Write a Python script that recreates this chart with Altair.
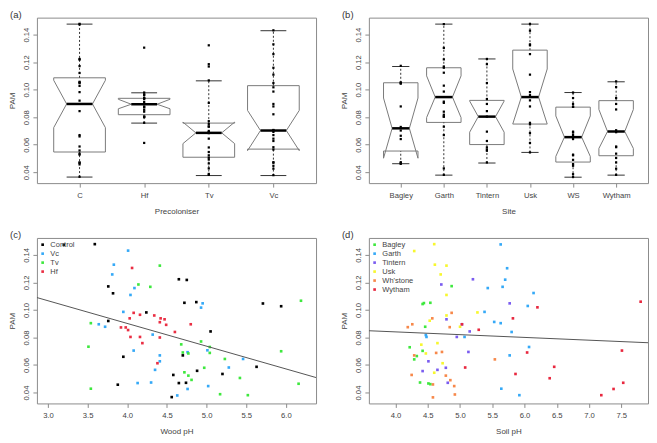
import altair as alt
import pandas as pd

FONT = "Liberation Sans"

# ---------------- data ----------------
# panel (c): wood pH vs PAM by precoloniser
ctrl_ph = [3.20, 3.59, 3.76, 3.82, 3.76, 3.95, 3.88, 4.24, 4.65, 4.75, 4.72, 4.87, 5.05, 4.70, 4.58,
           4.65, 4.74, 4.56, 4.88, 5.20, 5.63, 5.71, 5.94]
ctrl_pam = [0.1473, 0.1478, 0.1171, 0.1121, 0.0920, 0.0660, 0.0457, 0.0982, 0.1223, 0.1218, 0.1052,
            0.1057, 0.0844, 0.0670, 0.0528, 0.0469, 0.0471, 0.0367, 0.0558, 0.0535, 0.0587, 0.1047, 0.1027]
vc_ph = [4.01, 3.83, 3.81, 4.09, 4.04, 3.95, 3.64, 3.72, 4.08, 4.32, 4.41, 4.41, 4.35, 4.13, 4.30,
         4.63, 4.76, 4.76, 4.93, 4.95, 5.01, 5.02, 5.28, 5.46]
vc_pam = [0.1431, 0.1329, 0.1258, 0.1159, 0.1109, 0.0986, 0.0896, 0.0878, 0.0705, 0.0821, 0.0670,
          0.0627, 0.0565, 0.0469, 0.0473, 0.0379, 0.0426, 0.0693, 0.1017, 0.1048, 0.0707, 0.0447,
          0.0582, 0.0644]
tv_ph = [3.54, 3.51, 3.54, 4.14, 4.29, 4.41, 4.68, 4.70, 4.77, 4.93, 5.04, 5.04, 5.23, 4.97, 4.72,
         4.77, 4.81, 5.17, 5.42, 5.52, 5.94, 6.19, 6.16]
tv_pam = [0.0904, 0.0733, 0.0428, 0.1185, 0.1168, 0.1322, 0.0750, 0.0691, 0.0684, 0.0771, 0.0731,
          0.0688, 0.0644, 0.0580, 0.0547, 0.0523, 0.0492, 0.0388, 0.0506, 0.0381, 0.0700, 0.1067, 0.0464]
hf_ph = [4.06, 4.08, 4.03, 4.16, 4.34, 4.42, 4.47, 4.41, 4.49, 3.92, 3.98, 4.01, 4.04, 4.16, 4.19,
         4.41, 4.60, 4.80, 4.38]
hf_pam = [0.1305, 0.0979, 0.0939, 0.0965, 0.0960, 0.0939, 0.0932, 0.0911, 0.0892, 0.0873, 0.0873,
          0.0854, 0.0804, 0.0804, 0.0759, 0.0800, 0.0840, 0.0896, 0.0613]
wood_groups = ["Control", "Vc", "Tv", "Hf"]
wood_colors = ["#000000", "#35a9f7", "#3ee83e", "#ea2e43"]
wood_line_x = [2.86, 6.38]
wood_line_y = [0.1090, 0.0509]

# panel (d): soil pH vs PAM by site
bag_ph = [4.87, 4.44, 4.42, 4.54, 4.46, 4.22, 4.42, 4.33, 4.29, 4.38, 4.51, 4.54]
bag_pam = [0.1173, 0.1050, 0.1043, 0.1052, 0.0878, 0.0729, 0.0703, 0.0665, 0.0641, 0.0473, 0.0466, 0.0461]
gar_ph = [5.63, 5.73, 5.70, 6.14, 5.43, 5.66, 5.38, 6.05, 5.53, 5.63, 5.80, 5.07, 6.07, 5.77, 5.64,
          5.92, 4.47, 4.48]
gar_pam = [0.1476, 0.1303, 0.1220, 0.1123, 0.1159, 0.1168, 0.0986, 0.1029, 0.0913, 0.0904, 0.0840,
           0.0804, 0.0731, 0.0670, 0.0428, 0.0381, 0.0818, 0.0804]
tin_ph = [4.71, 5.20, 5.77, 4.79, 5.15, 4.95, 5.13, 4.51, 4.42, 4.65, 4.78, 4.81, 5.03]
tin_pam = [0.1185, 0.1223, 0.1048, 0.0932, 0.0844, 0.0804, 0.0695, 0.0627, 0.0556, 0.0565, 0.0580,
           0.0471, 0.0896]
usk_ph = [4.60, 4.29, 4.61, 4.79, 4.70, 4.79, 4.79, 4.53, 5.27, 5.00, 4.40, 4.65, 4.47, 4.73, 4.60]
usk_pam = [0.1478, 0.1428, 0.1329, 0.1322, 0.1258, 0.1109, 0.0960, 0.0922, 0.0982, 0.0878, 0.0748,
           0.0759, 0.0684, 0.0613, 0.0544]
whs_ph = [4.19, 4.26, 4.57, 4.87, 4.84, 4.29, 4.63, 4.72, 5.54, 4.25, 4.78, 4.85, 4.58, 4.91, 4.92, 4.58]
whs_pam = [0.0875, 0.0896, 0.0939, 0.0979, 0.0875, 0.0670, 0.0688, 0.0695, 0.0641, 0.0528, 0.0523,
           0.0490, 0.0459, 0.0447, 0.0386, 0.0365]
wyt_ph = [7.80, 6.20, 5.82, 5.29, 5.03, 6.04, 7.51, 5.08, 6.46, 5.86, 6.39, 7.53, 7.38, 7.19]
wyt_pam = [0.1060, 0.1019, 0.0939, 0.0856, 0.0896, 0.0691, 0.0705, 0.0582, 0.0587, 0.0535, 0.0504,
           0.0471, 0.0426, 0.0381]
soil_groups = ["Bagley", "Garth", "Tintern", "Usk", "Wh'stone", "Wytham"]
soil_colors = ["#3ee83e", "#35a9f7", "#7a5cf0", "#f7f72e", "#f7884a", "#e8283f"]
soil_line_x = [3.587, 7.914]
soil_line_y = [0.0849, 0.0762]

# panel (a) box statistics
preco_names = ["C", "Hf", "Tv", "Vc"]
preco_wlo = [0.0365, 0.0757, 0.0376, 0.0376]
preco_lh = [0.0547, 0.0818, 0.0509, 0.0568]
preco_nl = [0.0724, 0.0861, 0.0608, 0.0557]
preco_med = [0.0896, 0.0894, 0.0686, 0.0703]
preco_nu = [0.1068, 0.0930, 0.0764, 0.0849]
preco_uh = [0.1086, 0.0937, 0.0757, 0.1029]
preco_whi = [0.1476, 0.0977, 0.1064, 0.1428]

# panel (b) box statistics
site_names = ["Bagley", "Garth", "Tintern", "Usk", "WS", "Wytham"]
site_wlo = [0.0462, 0.0379, 0.0467, 0.0544, 0.0364, 0.0379]
site_lh = [0.0554, 0.0762, 0.0601, 0.0750, 0.0474, 0.0520]
site_nl = [0.0502, 0.0797, 0.0691, 0.0750, 0.0515, 0.0573]
site_med = [0.0719, 0.0946, 0.0804, 0.0946, 0.0655, 0.0696]
site_nu = [0.0939, 0.1100, 0.0917, 0.1150, 0.0809, 0.0856]
site_uh = [0.1050, 0.1159, 0.0922, 0.1287, 0.0873, 0.0920]
site_whi = [0.1168, 0.1476, 0.1223, 0.1476, 0.0979, 0.1057]

y_ticks = [0.04, 0.06, 0.08, 0.10, 0.12, 0.14]
y_domain = [0.0321, 0.1523]

# ---------------- layout ----------------
W, H = 280, 166
BOX_HALF, NOTCH_HALF = 0.4, 0.2
GRAY = "#8c8c8c"
TXT = "#444444"


def y_axis():
    return alt.Axis(values=y_ticks, format=".2f", labelAngle=270, labelAlign="center",
                    labelBaseline="bottom", labelPadding=2, tickSize=4, labelOverlap=False,
                    labelFlush=False, title="PAM", titleAngle=270, titleX=-24, titleY=H / 2,
                    titleAlign="center", titleBaseline="middle")


def x_axis(title, values, fmt=None, label_expr=None):
    kw = dict(values=values, title=title, tickSize=4, labelPadding=4, labelAngle=0,
              labelOverlap=False, labelFlush=False, titleY=28, titleBaseline="middle")
    if fmt:
        kw["format"] = fmt
    if label_expr:
        kw["labelExpr"] = label_expr
    return alt.Axis(**kw)


def panel_label(txt):
    return alt.Chart(pd.DataFrame({"t": [txt]})).mark_text(
        align="left", baseline="alphabetic", font=FONT, fontSize=9.5, color="#333333"
    ).encode(text="t:N", x=alt.value(-27), y=alt.value(0))


def box_panel(names, wlo, lh, nl, med, nu, uh, whi, groups_pts, xtitle, label):
    n = len(names)
    xs = alt.Scale(domain=[0.5 - 0.04 * n, n + 0.5 + 0.04 * n], nice=False, zero=False)
    ys = alt.Scale(domain=y_domain, nice=False, zero=False)
    lab = "[''," + ",".join("'%s'" % s for s in names) + "][datum.value]"
    xax = x_axis(xtitle, list(range(1, n + 1)), label_expr=lab)
    yax = y_axis()

    def X(f):
        return alt.X(f, scale=xs, axis=xax)

    def Y(f):
        return alt.Y(f, scale=ys, axis=yax)

    outline, stats, pts = [], [], []
    for i in range(n):
        c = i + 1
        verts = [(c - BOX_HALF, lh[i]), (c - BOX_HALF, nl[i]), (c - NOTCH_HALF, med[i]),
                 (c - BOX_HALF, nu[i]), (c - BOX_HALF, uh[i]), (c + BOX_HALF, uh[i]),
                 (c + BOX_HALF, nu[i]), (c + NOTCH_HALF, med[i]), (c + BOX_HALF, nl[i]),
                 (c + BOX_HALF, lh[i]), (c - BOX_HALF, lh[i])]
        for k, (vx, vy) in enumerate(verts):
            outline.append({"g": names[i], "k": k, "x": vx, "y": vy})
        stats.append({"c": c, "xl": c - NOTCH_HALF, "xr": c + NOTCH_HALF, "wlo": wlo[i], "lh": lh[i],
                      "med": med[i], "uh": uh[i], "whi": whi[i]})
        for v in groups_pts[i]:
            pts.append({"c": c, "pam": v})
    odf, sdf, pdf = pd.DataFrame(outline), pd.DataFrame(stats), pd.DataFrame(pts)

    box = alt.Chart(odf).mark_line(color="#7a7a7a", strokeWidth=1).encode(
        x=X("x:Q"), y=Y("y:Q"), order="k:Q", detail="g:N")
    base = alt.Chart(sdf)
    wh_up = base.mark_rule(color="#333333", strokeDash=[2, 2], strokeWidth=1).encode(
        x=X("c:Q"), y=Y("uh:Q"), y2="whi:Q")
    wh_dn = base.mark_rule(color="#333333", strokeDash=[2, 2], strokeWidth=1).encode(
        x=X("c:Q"), y=Y("wlo:Q"), y2="lh:Q")
    st_up = base.mark_rule(color="#333333", strokeWidth=1).encode(x=X("xl:Q"), x2="xr:Q", y=Y("whi:Q"))
    st_dn = base.mark_rule(color="#333333", strokeWidth=1).encode(x=X("xl:Q"), x2="xr:Q", y=Y("wlo:Q"))
    medl = base.mark_rule(color="#000000", strokeWidth=2.5).encode(x=X("xl:Q"), x2="xr:Q", y=Y("med:Q"))
    dots = alt.Chart(pdf).mark_square(size=5, color="#000000", opacity=1).encode(
        x=X("c:Q"), y=Y("pam:Q"))
    return alt.layer(box, wh_up, wh_dn, st_up, st_dn, medl, dots, panel_label(label)).properties(
        width=W, height=H)


def scatter_panel(xs_list, ys_list, groups, colors, xdom, xticks, line_x, line_y, xtitle, label):
    rows = []
    for g, xv, yv in zip(groups, xs_list, ys_list):
        for a, b in zip(xv, yv):
            rows.append({"g": g, "ph": a, "pam": b})
    df = pd.DataFrame(rows)
    xs = alt.Scale(domain=xdom, nice=False, zero=False)
    ys = alt.Scale(domain=y_domain, nice=False, zero=False)
    xax = x_axis(xtitle, xticks, fmt=".1f")
    yax = y_axis()
    pts = alt.Chart(df).mark_square(size=7, opacity=1).encode(
        x=alt.X("ph:Q", scale=xs, axis=xax),
        y=alt.Y("pam:Q", scale=ys, axis=yax),
        color=alt.Color("g:N", scale=alt.Scale(domain=groups, range=colors),
                        legend=alt.Legend(orient="none", legendX=2, legendY=3, title=None,
                                          symbolType="square", symbolSize=7, symbolStrokeWidth=0,
                                          labelFont=FONT, labelFontSize=7.5, labelColor=TXT,
                                          labelOffset=4, rowPadding=0, padding=0)))
    ldf = pd.DataFrame({"ph": line_x, "pam": line_y})
    line = alt.Chart(ldf).mark_line(color="#555555", strokeWidth=1, clip=True).encode(
        x=alt.X("ph:Q", scale=xs, axis=xax), y=alt.Y("pam:Q", scale=ys, axis=yax))
    return alt.layer(pts, line, panel_label(label)).properties(width=W, height=H)


pa = box_panel(preco_names, preco_wlo, preco_lh, preco_nl, preco_med, preco_nu, preco_uh, preco_whi,
               [ctrl_pam, hf_pam, tv_pam, vc_pam], "Precoloniser", "(a)")
pb = box_panel(site_names, site_wlo, site_lh, site_nl, site_med, site_nu, site_uh, site_whi,
               [bag_pam, gar_pam, tin_pam, usk_pam, whs_pam, wyt_pam], "Site", "(b)")
pc = scatter_panel([ctrl_ph, vc_ph, tv_ph, hf_ph], [ctrl_pam, vc_pam, tv_pam, hf_pam],
                   wood_groups, wood_colors, [2.86, 6.38], [3.0, 3.5, 4.0, 4.5, 5.0, 5.5, 6.0],
                   wood_line_x, wood_line_y, "Wood pH", "(c)")
pd_ = scatter_panel([bag_ph, gar_ph, tin_ph, usk_ph, whs_ph, wyt_ph],
                    [bag_pam, gar_pam, tin_pam, usk_pam, whs_pam, wyt_pam],
                    soil_groups, soil_colors, [3.587, 7.914],
                    [4.0, 4.5, 5.0, 5.5, 6.0, 6.5, 7.0, 7.5],
                    soil_line_x, soil_line_y, "Soil pH", "(d)")

chart = alt.concat(pa, pb, pc, pd_, columns=2, spacing={"row": 55, "column": 53}, bounds="flush")
chart = chart.resolve_scale(color="independent", x="independent", y="independent").properties(
    padding=0, background="white"
).configure_view(stroke=GRAY, strokeWidth=1).configure_axis(
    domain=False, grid=False, tickColor=GRAY, tickWidth=1, labelFont=FONT, labelFontSize=7.7,
    labelColor=TXT, titleFont=FONT, titleFontSize=8, titleFontWeight="normal", titleColor=TXT)

chart.save("out.html", embed_options={"renderer": "svg", "actions": False})
